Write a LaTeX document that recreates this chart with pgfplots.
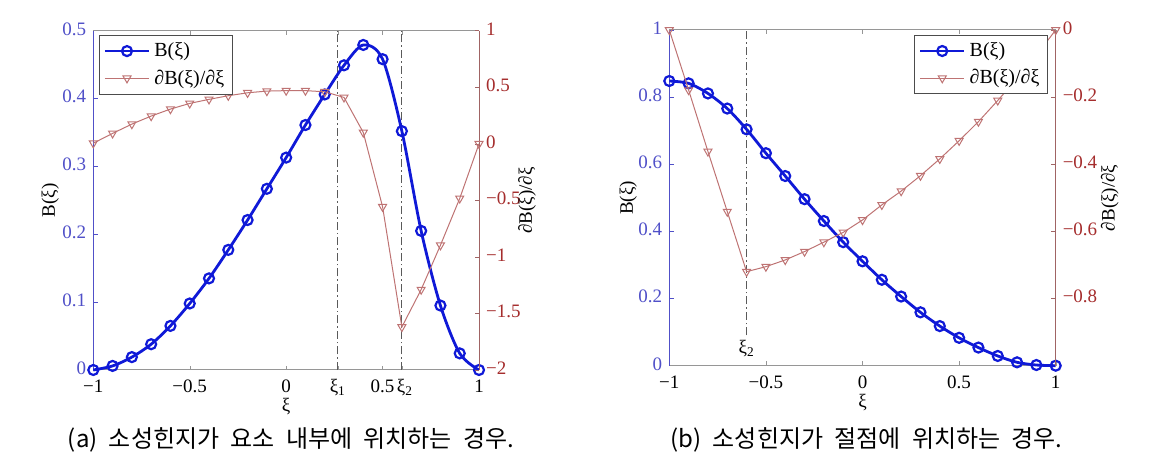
\documentclass[border=0pt]{standalone}
\usepackage{pgfplots}
\pgfplotsset{compat=1.18}
\usepackage{fontspec}
\setmainfont{Liberation Serif}
\newfontfamily\cjk[WordSpace=2.1]{Noto Sans CJK KR}
\definecolor{bline}{RGB}{15,25,215}
\definecolor{dline}{RGB}{190,115,115}
\definecolor{bax}{RGB}{80,80,200}
\definecolor{dax}{RGB}{165,45,45}
\definecolor{daxl}{RGB}{160,100,100}
\definecolor{frame}{RGB}{150,150,150}
\definecolor{vline}{RGB}{90,90,90}

\pgfplotstableread{
x y
-1 0
-0.9 0.006
-0.8 0.019
-0.7 0.038
-0.6 0.065
-0.5 0.098
-0.4 0.135
-0.3 0.177
-0.2 0.221
-0.1 0.267
0 0.313
0.1 0.361
0.2 0.406
0.3 0.449
0.4 0.479
0.5 0.458
0.6 0.352
0.7 0.205
0.8 0.095
0.9 0.0245
1 0
}\Ba
\pgfplotstableread{
x y
-1 0.005
-0.9 0.092
-0.8 0.174
-0.7 0.245
-0.6 0.307
-0.5 0.357
-0.4 0.393
-0.3 0.425
-0.2 0.451
-0.1 0.466
0 0.470
0.1 0.470
0.2 0.460
0.3 0.410
0.4 0.100
0.5 -0.557
0.6 -1.620
0.7 -1.289
0.8 -0.897
0.9 -0.483
1 0
}\Da
\pgfplotstableread{
x y
-1 0.848
-0.9 0.841
-0.8 0.811
-0.7 0.766
-0.6 0.704
-0.5 0.633
-0.4 0.565
-0.3 0.496
-0.2 0.431
-0.1 0.368
0 0.311
0.1 0.256
0.2 0.206
0.3 0.159
0.4 0.118
0.5 0.083
0.6 0.054
0.7 0.029
0.8 0.010
0.9 0.002
1 0
}\Bb
\pgfplotstableread{
x y
-1 0
-0.9 -0.179
-0.8 -0.362
-0.7 -0.541
-0.6 -0.720
-0.5 -0.705
-0.4 -0.685
-0.3 -0.660
-0.2 -0.632
-0.1 -0.603
0 -0.566
0.1 -0.521
0.2 -0.480
0.3 -0.434
0.4 -0.384
0.5 -0.330
0.6 -0.273
0.7 -0.210
0.8 -0.145
0.9 -0.075
1 0
}\Db

\pgfplotsset{
  common/.style={
    scale only axis,
    font=\fontsize{9.5}{11}\selectfont,
    tick align=inside,
    major tick length=2.2pt,
    xmin=-1, xmax=1,
    clip=false,
    typeset ticklabels with strut,
  },
  bstyle/.style={color=bline, line width=1.4pt, mark=o, mark size=2.5pt, mark options={line width=1.1pt, solid}},
  dstyle/.style={color=dline, line width=0.5pt, mark=triangle, mark size=2.3pt, mark options={rotate=180, line width=0.5pt, solid}},
  vstyle/.style={color=vline, line width=0.5pt, dash pattern=on 4pt off 1.5pt on 0.8pt off 1.5pt},
  leg/.style={legend style={draw=black!70, line width=0.5pt, fill=white, font=\fontsize{10}{12}\selectfont, inner xsep=2pt, inner ysep=1.5pt, row sep=1pt, cells={anchor=west}},
    legend image code/.code={\draw[##1] (0pt,0pt) -- (11pt,0pt) -- (22pt,0pt); \draw[##1, only marks] plot coordinates {(11pt,0pt)};}},
  lylab/.style={ylabel style={at={(rel axis cs:0,0.5)}, anchor=center, yshift=#1}},
  rylab/.style={ylabel style={at={(rel axis cs:1,0.5)}, anchor=center, yshift=-#1}},
  xlab/.style={xlabel style={at={(rel axis cs:0.5,0)}, anchor=center, yshift=-18.5pt}},
}

\begin{document}
\begin{tikzpicture}
\path[use as bounding box] (0pt,0pt) rectangle (580pt,229pt);

% ---------- panel (a) ----------
\begin{axis}[common,
  at={(46.65pt,44pt)}, anchor=south west,
  width=192.85pt, height=169.65pt,
  ymin=0, ymax=0.5,
  axis x line*=box, axis y line*=left,
  x axis line style={frame, line width=0.5pt},
  y axis line style={bax, line width=0.5pt},
  xtick={-1,-0.5,0,0.268,0.5,0.6,1},
  xticklabels={−1,−0.5,0,ξ\textsubscript{1},0.5\hspace{5pt},\hspace{3pt}ξ\textsubscript{2},1},
  xtick style={frame},
  ytick={0,0.1,0.2,0.3,0.4,0.5},
  yticklabels={0,0.1,0.2,0.3,0.4,0.5},
  yticklabel style={bax},
  ytick style={bax},
  xlabel={ξ}, ylabel={B(ξ)},
  xlab, lylab=21.5pt,
]
\addplot[vstyle] coordinates {(0.268,0) (0.268,0.5)};
\addplot[vstyle] coordinates {(0.6,0) (0.6,0.5)};
\addplot[bstyle, smooth, tension=0.5] table[x=x,y=y] {\Ba};
\end{axis}
\begin{axis}[common,
  at={(46.65pt,44pt)}, anchor=south west,
  width=192.85pt, height=169.65pt,
  ymin=-2, ymax=1,
  axis y line*=right, axis x line=none,
  y axis line style={daxl, line width=0.5pt},
  ytick={-2,-1.5,-1,-0.5,0,0.5,1},
  yticklabels={−2,−1.5,−1,−0.5,0,0.5,1},
  yticklabel style={dax},
  ytick style={daxl},
  ylabel={∂B(ξ)/∂ξ},
  rylab=24pt,
  leg,
  legend style={at={(0.015,0.987)}, anchor=north west},
]
\addlegendimage{bstyle}
\addlegendentry{B(ξ)}
\addplot[dstyle] table[x=x,y=y] {\Da};
\addlegendentry{∂B(ξ)/∂ξ}
\end{axis}

% ---------- panel (b) ----------
\begin{axis}[common,
  at={(334.65pt,46.15pt)}, anchor=south west,
  width=193.2pt, height=167.85pt,
  ymin=0, ymax=1,
  axis x line*=box, axis y line*=left,
  x axis line style={frame, line width=0.5pt},
  y axis line style={bax, line width=0.5pt},
  xtick={-1,-0.5,0,0.5,1},
  xticklabels={−1,−0.5,0,0.5,1},
  xtick style={frame},
  ytick={0,0.2,0.4,0.6,0.8,1},
  yticklabels={0,0.2,0.4,0.6,0.8,1},
  yticklabel style={bax},
  ytick style={bax},
  xlabel={ξ}, ylabel={B(ξ)},
  xlab, lylab=20.5pt,
]
\addplot[vstyle] coordinates {(-0.6,0.09) (-0.6,1)};
\node[font=\fontsize{9.5}{11}\selectfont] at (axis cs:-0.6,0.05) {ξ\textsubscript{2}};
\addplot[bstyle, smooth, tension=0.5] table[x=x,y=y] {\Bb};
\end{axis}
\begin{axis}[common,
  at={(334.65pt,46.15pt)}, anchor=south west,
  width=193.2pt, height=167.85pt,
  ymin=-1, ymax=0,
  axis y line*=right, axis x line=none,
  y axis line style={daxl, line width=0.5pt},
  ytick={-0.8,-0.6,-0.4,-0.2,0},
  yticklabels={−0.8,−0.6,−0.4,−0.2,0},
  yticklabel style={dax},
  ytick style={daxl},
  ylabel={∂B(ξ)/∂ξ},
  rylab=27pt,
  leg,
  legend style={at={(0.98,0.985)}, anchor=north east},
]
\addlegendimage{bstyle}
\addlegendentry{B(ξ)}
\addplot[dstyle] table[x=x,y=y] {\Db};
\addlegendentry{∂B(ξ)/∂ξ}
\end{axis}

\node[font=\fontsize{12}{14}\selectfont\cjk] at (145.5pt,9pt) {(a) 소성힌지가 요소 내부에 위치하는 경우.};
\node[font=\fontsize{12}{14}\selectfont\cjk] at (433.25pt,9pt) {(b) 소성힌지가 절점에 위치하는 경우.};
\end{tikzpicture}
\end{document}
